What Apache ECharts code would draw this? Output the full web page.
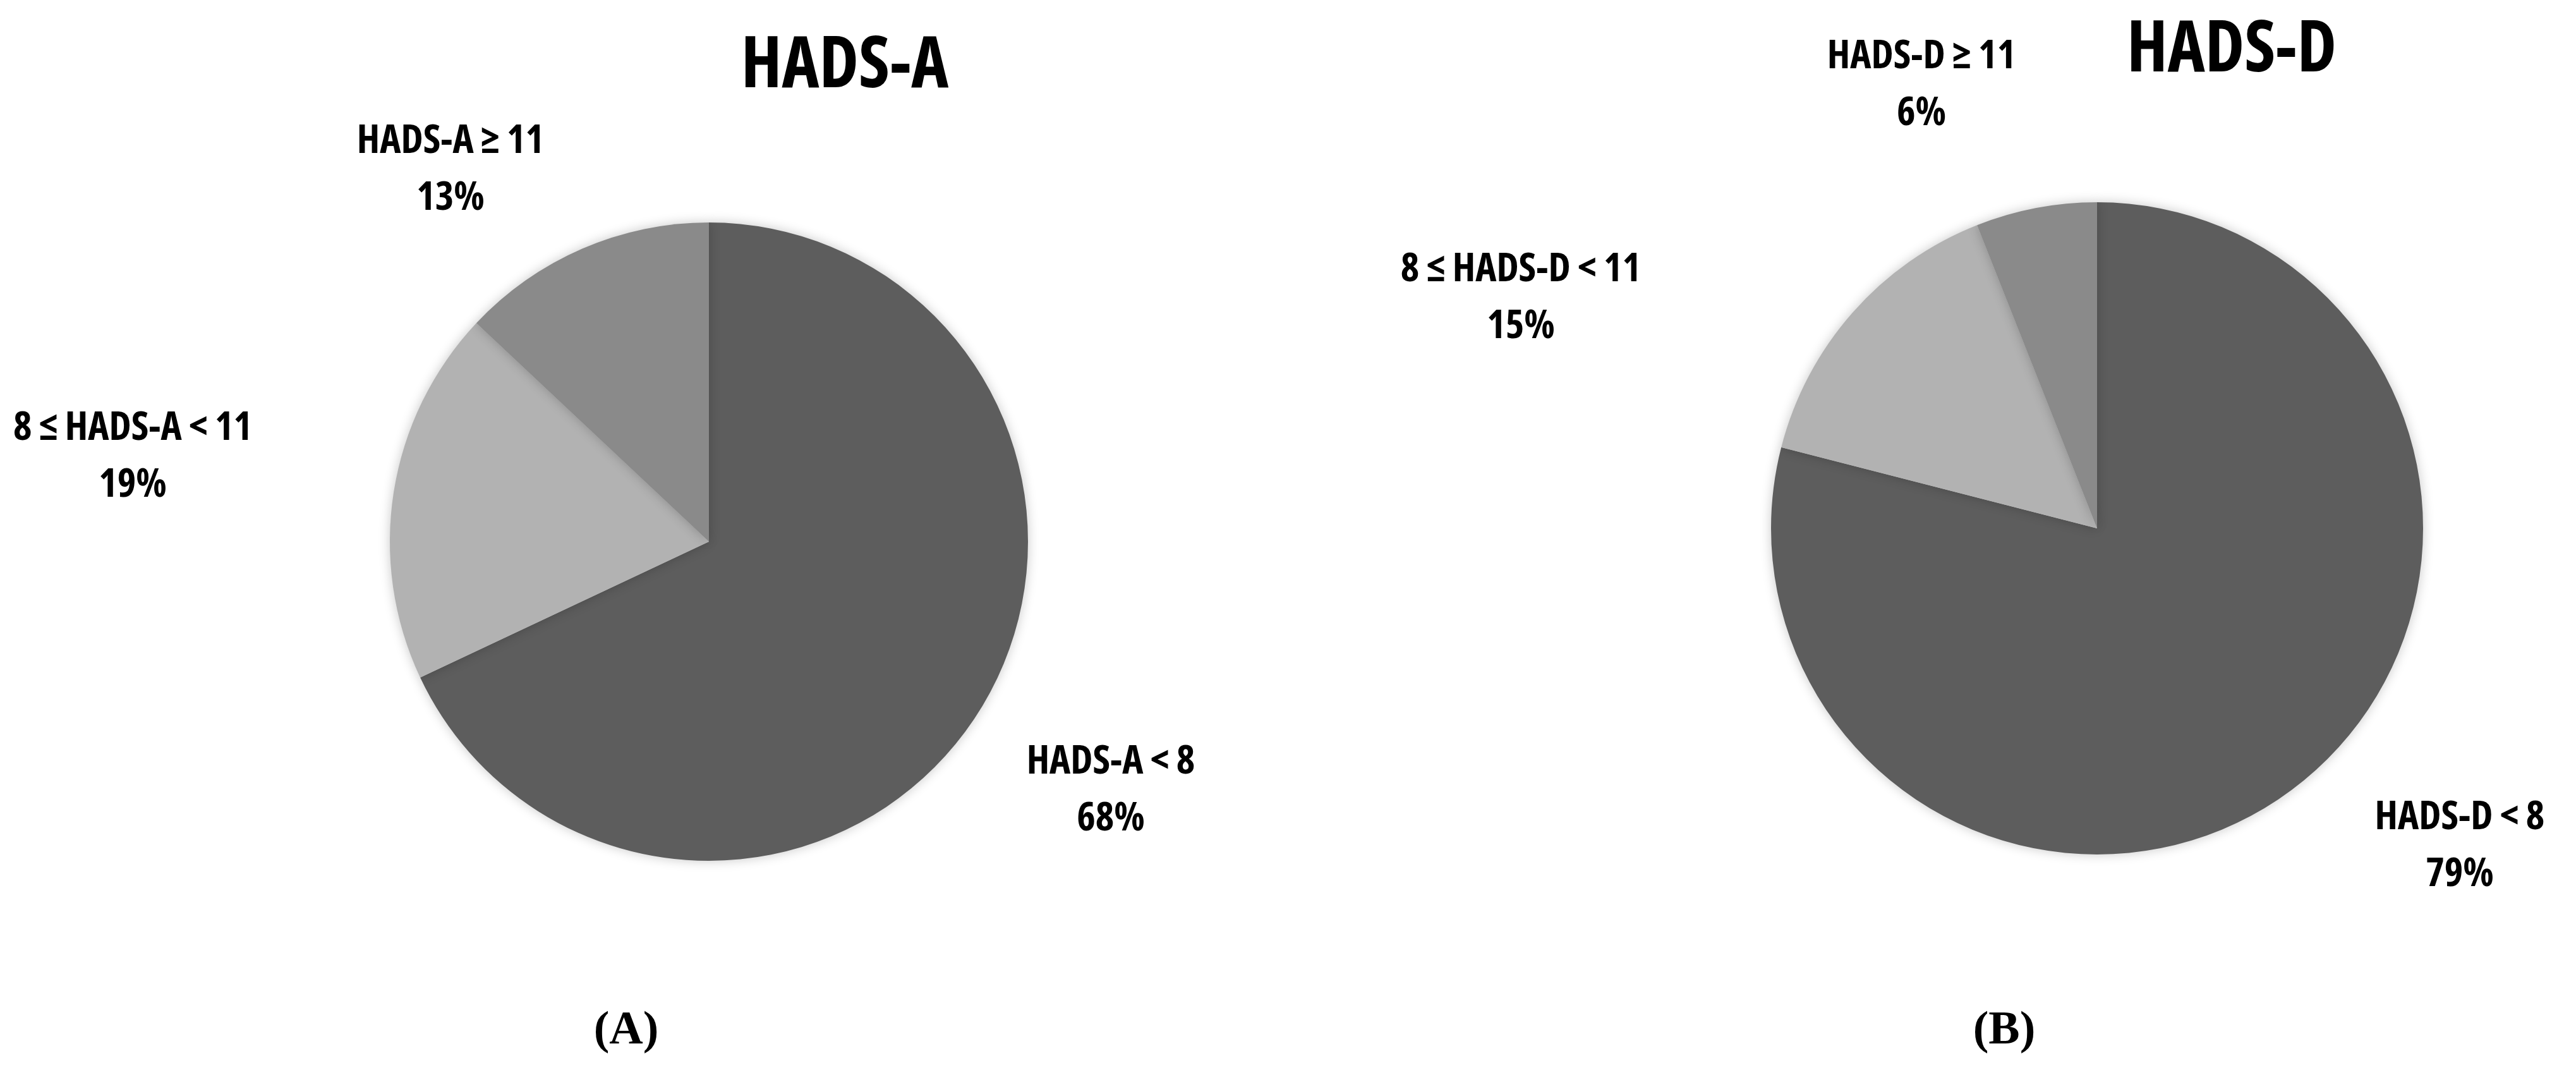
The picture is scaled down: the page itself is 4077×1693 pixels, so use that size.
<!DOCTYPE html>
<html>
<head>
<meta charset="utf-8">
<script src="https://cdn.jsdelivr.net/npm/echarts@6/dist/echarts.min.js"></script>
<style>
html,body{margin:0;padding:0;background:#fff;}
#chart{width:4077px;height:1693px;}
</style>
</head>
<body>
<div id="chart"></div>
<script>
// ---- data ----
const categoriesA = ['HADS-A < 8', '8 \u2264 HADS-A < 11', 'HADS-A \u2265 11'];
const valuesA = [68, 19, 13];
const categoriesD = ['HADS-D < 8', '8 \u2264 HADS-D < 11', 'HADS-D \u2265 11'];
const valuesD = [79, 15, 6];
const titles = ['HADS-A', 'HADS-D'];
const panelLabels = ['(A)', '(B)'];

// ---- style / layout ----
const sliceColors = ['#5d5d5d', '#b2b2b2', '#8a8a8a'];
const labelFont = '"Open Sans", sans-serif';
const labelPosA = [[1758, 1251], [210, 723], [713, 269]];
const labelPosD = [[3893, 1339], [2407, 472], [3041, 135]];

function makeData(cats, vals) {
  return cats.map((c, i) => ({ name: c, value: vals[i], itemStyle: { color: sliceColors[i] } }));
}

function pieSeries(cats, vals, center, radius, pos) {
  return {
    type: 'pie',
    center: center,
    radius: radius,
    startAngle: 90,
    clockwise: true,
    animation: false,
    silent: true,
    avoidLabelOverlap: false,
    data: makeData(cats, vals),
    itemStyle: {
      borderWidth: 0,
      shadowBlur: 18,
      shadowColor: 'rgba(0,0,0,0.22)'
    },
    label: {
      show: true,
      position: 'outside',
      formatter: '{b}\n{c}%',
      fontFamily: labelFont,
      fontWeight: 'bold condensed',
      fontSize: 63,
      lineHeight: 90,
      color: '#000',
      align: 'center'
    },
    labelLine: { show: false },
    labelLayout: function (p) {
      const xy = pos[p.dataIndex];
      return { x: xy[0], y: xy[1], align: 'center', verticalAlign: 'middle' };
    }
  };
}

const chart = echarts.init(document.getElementById('chart'), null, { renderer: 'canvas' });
chart.setOption({
  backgroundColor: '#fff',
  animation: false,
  series: [
    pieSeries(categoriesA, valuesA, [1122, 857], 505, labelPosA),
    pieSeries(categoriesD, valuesD, [3319, 836], 516, labelPosD)
  ],
  graphic: [
    { type: 'text', x: 1337, y: 106, style: { text: titles[0], font: 'bold condensed 112px "Open Sans", sans-serif', fill: '#000', textAlign: 'center', textVerticalAlign: 'middle' } },
    { type: 'text', x: 3532, y: 81, style: { text: titles[1], font: 'bold condensed 112px "Open Sans", sans-serif', fill: '#000', textAlign: 'center', textVerticalAlign: 'middle' } },
    { type: 'text', x: 991, y: 1632, style: { text: panelLabels[0], font: 'bold 74px "Liberation Serif", "Times New Roman", serif', fill: '#000', textAlign: 'center', textVerticalAlign: 'middle' } },
    { type: 'text', x: 3172, y: 1632, style: { text: panelLabels[1], font: 'bold 74px "Liberation Serif", "Times New Roman", serif', fill: '#000', textAlign: 'center', textVerticalAlign: 'middle' } }
  ]
});
</script>
</body>
</html>
